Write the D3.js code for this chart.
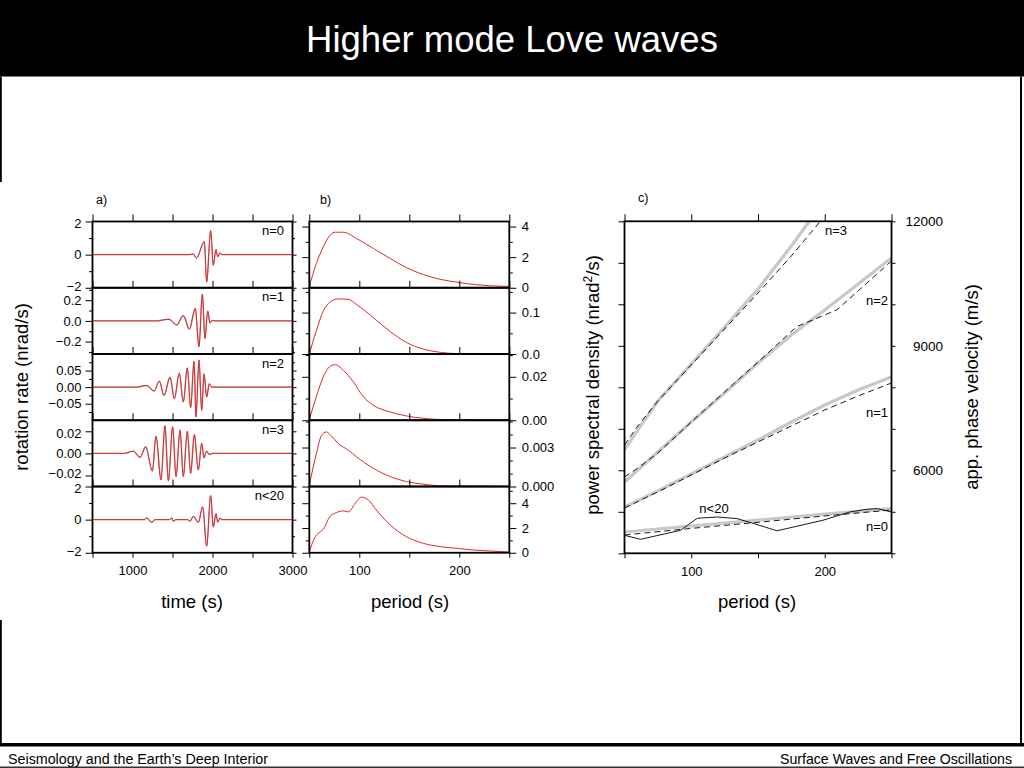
<!DOCTYPE html>
<html><head><meta charset="utf-8">
<script src="https://cdn.jsdelivr.net/npm/d3@7"></script>
<style>
html,body{margin:0;padding:0;background:#fff;overflow:hidden;}
svg{display:block;font-family:"Liberation Sans",Arial,Helvetica,sans-serif;}
</style></head><body>
<svg id="c" width="1024" height="768"></svg>
<script>
// ---------------- DATA ----------------
const title = "Higher mode Love waves";
const footerLeft = "Seismology and the Earth\u2019s Deep Interior";
const footerRight = "Surface Waves and Free Oscillations";

// panel a) rotation-rate traces  [time (s), rate (nrad/s)]
const modeLabels = ["n=0", "n=1", "n=2", "n=3", "n<20"];
const traceN0 = [[500,0],[1700,0],[1760,0.03],[1800,-0.2],[1898,0.78],[1927,-1.66],[1977,1.45],[2010,-0.64],[2044,0.32],[2065,-0.13],[2094,0.1],[2120,0],[3000,0]];
const traceN1 = [[500,0],[1300,0],[1456,0.016],[1552,-0.04],[1635,0.05],[1710,-0.08],[1785,0.12],[1831,-0.25],[1873,0.26],[1906,-0.17],[1940,0.095],[1969,-0.02],[1995,0.005],[2030,0],[3000,0]];
const traceN2 = [[500,0],[1050,0],[1177,0.005],[1269,-0.012],[1335,0.018],[1394,-0.025],[1469,0.03],[1523,-0.035],[1585,0.042],[1635,-0.045],[1685,0.058],[1727,-0.062],[1769,0.078],[1794,-0.09],[1831,0.082],[1865,-0.07],[1894,0.04],[1927,-0.03],[1960,0.01],[1990,0],[3000,0]];
const traceN3 = [[500,0],[900,0],[1010,0.002],[1094,-0.0036],[1165,0.006],[1248,-0.016],[1294,0.0155],[1356,-0.024],[1406,0.025],[1448,-0.025],[1502,0.024],[1544,-0.021],[1594,0.021],[1635,-0.021],[1685,0.02],[1727,-0.018],[1773,0.017],[1823,-0.015],[1865,0.009],[1894,-0.004],[1925,0.002],[1960,-0.001],[2000,0],[3000,0]];
const traceAll = [[500,0],[1150,0],[1177,0.1],[1240,-0.16],[1280,0],[1460,0],[1490,0.1],[1510,-0.1],[1540,0],[1690,0],[1719,-0.1],[1760,0.2],[1823,-0.16],[1877,0.77],[1927,-1.6],[1977,1.45],[2010,-0.45],[2044,0.36],[2065,-0.15],[2094,0.08],[2120,0],[3000,0]];
const traces = [traceN0, traceN1, traceN2, traceN3, traceAll];
const timeDomain = [500, 3000];
const timeMajor = [1000, 2000, 3000];
const timeMinor = [500, 1500, 2500];
const rateDomains = [[-2,2],[-0.32,0.32],[-0.1,0.1],[-0.03,0.03],[-2,2]];
const rateMajor = [[-2,0,2],[-0.2,0,0.2],[-0.05,0,0.05],[-0.02,0,0.02],[-2,0,2]];
const rateMinor = [[-1,1],[-0.3,-0.1,0.1,0.3],[-0.075,-0.025,0.025,0.075],[-0.01,0.01],[-1,1]];
const rateFormat = [".0f",".1f",".2f",".2f",".0f"];

// panel b) spectra  [period (s), amplitude]
const specN0 = [[50,0.09],[57,1.58],[64,2.68],[71,3.45],[76,3.63],[84,3.63],[97,3.23],[114,2.57],[131,1.91],[147,1.32],[164,0.86],[181,0.55],[197,0.37],[214,0.22],[231,0.13],[250,0.09]];
const specN1 = [[50,0],[57,0.056],[64,0.104],[71,0.126],[79,0.133],[89,0.132],[97,0.12],[114,0.088],[131,0.054],[147,0.028],[164,0.012],[181,0.004],[197,0.001],[250,0]];
const specN2 = [[50,0.0003],[57,0.0108],[64,0.02],[70,0.0245],[76,0.0256],[84,0.023],[94,0.0177],[104,0.0108],[114,0.0069],[131,0.0038],[147,0.002],[164,0.0009],[181,0.0003],[250,0]];
const specN3 = [[50,0.0001],[57,0.0025],[62,0.0039],[67,0.0042],[72,0.0039],[79,0.0033],[89,0.0028],[97,0.0023],[114,0.0014],[131,0.00076],[147,0.00038],[164,0.00018],[181,0.00005],[250,0]];
const specAll = [[50,0.08],[56,1.3],[61,1.7],[64,1.9],[71,2.98],[77,3.24],[84,3.38],[89,3.3],[96,4.0],[102,4.49],[109,4.27],[117,3.46],[131,2.24],[147,1.3],[164,0.76],[181,0.49],[197,0.36],[214,0.22],[231,0.14],[250,0.06]];
const spectra = [specN0, specN1, specN2, specN3, specAll];
const periodDomain = [50, 250];
const periodMajor = [100, 200];
const periodMinor = [50, 150, 250];
const specDomains = [[0,4.33],[0,0.16],[0,0.0305],[0,0.0051],[0,5.35]];
const specMajor = [[0,2,4],[0,0.1],[0,0.02],[0,0.003],[0,2,4]];
const specMinor = [[1,3],[0.05,0.15],[0.01,0.03],[0.001,0.002,0.004,0.005],[1,3,5]];
const specFormat = [".0f",".1f",".2f",".3f",".0f"];

// panel c) apparent phase velocity  [period (s), velocity (m/s)]
const theoN3 = [[50,6490],[60,6972],[75,7670],[100,8562],[125,9454],[150,10369],[175,11406],[200,12514]];
const obsN3  = [[50,6610],[60,7068],[75,7670],[100,8538],[125,9406],[150,10273],[175,11165],[200,12129]];
const theoN2 = [[50,5718],[60,6007],[75,6441],[100,7164],[125,7863],[150,8586],[175,9261],[200,9864],[225,10490],[250,11117]];
const obsN2  = [[50,5838],[60,6055],[75,6417],[100,7164],[125,7887],[150,8610],[179,9461],[209,9864],[225,10324],[250,11044]];
const theoN1 = [[50,5116],[75,5505],[100,5911],[125,6321],[150,6731],[175,7164],[200,7574],[225,7935],[250,8249]];
const obsN1  = [[50,5092],[75,5481],[100,5887],[125,6297],[150,6682],[175,7068],[200,7454],[225,7791],[250,8104]];
const theoN0 = [[50,4513],[100,4658],[150,4800],[200,4945],[250,5077]];
const obsN0  = [[50,4441],[100,4600],[150,4747],[200,4900],[250,5044]];
const obsAll = [[50,4434],[62,4337],[92,4554],[104.5,4844],[119.4,4875],[134.3,4836],[146.3,4723],[164.2,4542],[198.5,4795],[218.7,4995],[231.3,5060],[239.6,5077],[250,4995]];
const velDomain = [4000, 12000];
const velTicks = [4000,5000,6000,7000,8000,9000,10000,11000,12000];
const velLabels = [6000, 9000, 12000];

// ---------------- DRAWING ----------------
const FONT = '"Liberation Sans", Arial, Helvetica, sans-serif';
const RED = "#e3262c";
const svg = d3.select("#c");

// slide frame
svg.append("rect").attr("x",0).attr("y",0).attr("width",1024).attr("height",76.5).attr("fill","#000");
svg.append("text").attr("x",512).attr("y",52).attr("text-anchor","middle").attr("fill","#fff")
  .attr("font-size",36.5).attr("font-family",FONT).text(title);
svg.append("rect").attr("x",0).attr("y",76.5).attr("width",1.8).attr("height",105.5).attr("fill","#000");
svg.append("rect").attr("x",0).attr("y",620).attr("width",1.8).attr("height",124).attr("fill","#000");
svg.append("rect").attr("x",1020).attr("y",76.5).attr("width",2).attr("height",668).attr("fill","#000");
svg.append("rect").attr("x",0).attr("y",743).attr("width",1024).attr("height",3.5).attr("fill","#000");
svg.append("rect").attr("x",0).attr("y",766.5).attr("width",1024).attr("height",1.5).attr("fill","#333");
svg.append("text").attr("x",8).attr("y",764).attr("font-size",14).attr("font-family",FONT)
  .attr("textLength",260).attr("lengthAdjust","spacingAndGlyphs")
  .attr("fill","#000").text(footerLeft);
svg.append("text").attr("x",780).attr("y",764).attr("font-size",14).attr("font-family",FONT)
  .attr("textLength",232).attr("lengthAdjust","spacingAndGlyphs")
  .attr("fill","#000").text(footerRight);

function styleAxis(g, fs) {
  g.select(".domain").remove();
  g.attr("font-family", FONT).attr("font-size", fs || 13);
  g.selectAll("line").attr("stroke","#000").attr("stroke-width",1);
  g.selectAll("text").attr("fill","#000");
}
function ticks(parent, gen, scale, vals, size, fmt, pad, tx, ty) {
  const a = gen(scale).tickValues(vals).tickSize(size).tickPadding(pad == null ? 4 : pad)
    .tickFormat(fmt ? d3.format(fmt) : () => "");
  const g = parent.append("g").attr("transform", `translate(${tx},${ty})`).call(a);
  styleAxis(g);
  if (!fmt) g.selectAll("text").remove();
  return g;
}
// nudge labels that sit close to a frame edge slightly inward, away from the neighbouring row
function nudgeEdgeLabels(g, scale) {
  const r = scale.range(); // [bottom, top]
  g.selectAll(".tick").each(function(d) {
    const t = d3.select(this).select("text");
    if (t.empty()) return;
    const p = scale(d);
    if (r[0] - p < 12) t.attr("y", -1.8);
    if (p - r[1] < 12) t.attr("y", 2);
  });
}

const rowTop = 221.5, rowH = 66.25;
const ax = d3.scaleLinear().domain(timeDomain).range([92.5, 292.5]);
const bx = d3.scaleLinear().domain(periodDomain).range([309.3, 509.3]);

for (let i = 0; i < 5; i++) {
  const y0 = rowTop + i*rowH, y1 = y0 + rowH;
  // --- panel a row
  const ay = d3.scaleLinear().domain(rateDomains[i]).range([y1, y0]);
  const ga = svg.append("g");
  ga.append("clipPath").attr("id","ca"+i).append("rect")
    .attr("x",ax.range()[0]).attr("y",y0).attr("width",200).attr("height",rowH);
  const la = d3.line().x(d => ax(d[0])).y(d => ay(d[1])).curve(d3.curveMonotoneX);
  ga.append("path").datum(traces[i]).attr("d",la).attr("fill","none").attr("stroke","#000")
    .attr("stroke-width",1.4).attr("stroke-opacity",0.35).attr("clip-path",`url(#ca${i})`);
  ga.append("path").datum(traces[i]).attr("d",la).attr("fill","none").attr("stroke",RED)
    .attr("stroke-width",1).attr("clip-path",`url(#ca${i})`);
  const gl = ticks(ga, d3.axisLeft, ay, rateMajor[i], 7, rateFormat[i], 4, ax.range()[0], 0);
  nudgeEdgeLabels(gl, ay);
  ticks(ga, d3.axisLeft, ay, rateMinor[i], 3.5, null, 4, ax.range()[0], 0);
  ticks(ga, d3.axisRight, ay, rateMajor[i], 4, null, 4, ax.range()[1], 0);
  ticks(ga, d3.axisRight, ay, rateMinor[i], 2.5, null, 4, ax.range()[1], 0);
  ticks(ga, d3.axisTop, ax, timeMajor.concat(timeMinor), 7, null, 4, 0, y0);
  ga.append("rect").attr("x",ax.range()[0]).attr("y",y0).attr("width",200).attr("height",rowH)
    .attr("fill","none").attr("stroke","#000").attr("stroke-width",1.8);
  ga.append("text").attr("x",284).attr("y",y0+13.5).attr("text-anchor","end")
    .attr("font-size",13).attr("font-family",FONT).text(modeLabels[i]);

  // --- panel b row
  const by = d3.scaleLinear().domain(specDomains[i]).range([y1, y0]);
  const gb = svg.append("g");
  const lb = d3.line().x(d => bx(d[0])).y(d => by(d[1])).curve(d3.curveMonotoneX);
  gb.append("path").datum(spectra[i]).attr("d",lb).attr("fill","none").attr("stroke",RED).attr("stroke-width",1);
  ticks(gb, d3.axisRight, by, specMajor[i], 7, specFormat[i], 5.5, bx.range()[1], 0);
  ticks(gb, d3.axisRight, by, specMinor[i], 3.5, null, 4, bx.range()[1], 0);
  ticks(gb, d3.axisLeft, by, specMajor[i], 7, null, 4, bx.range()[0], 0);
  ticks(gb, d3.axisLeft, by, specMinor[i], 3.5, null, 4, bx.range()[0], 0);
  ticks(gb, d3.axisTop, bx, periodMajor.concat(periodMinor), 7, null, 4, 0, y0);
  gb.append("rect").attr("x",bx.range()[0]).attr("y",y0).attr("width",200).attr("height",rowH)
    .attr("fill","none").attr("stroke","#000").attr("stroke-width",1.8);
}
const yBottom = rowTop + 5*rowH;
ticks(svg, d3.axisBottom, ax, timeMajor, 5, "d", 8, 0, yBottom);
ticks(svg, d3.axisBottom, ax, timeMinor, 5, null, 8, 0, yBottom);
ticks(svg, d3.axisBottom, bx, periodMajor, 5, "d", 8, 0, yBottom);
ticks(svg, d3.axisBottom, bx, periodMinor, 5, null, 8, 0, yBottom);

// labels
function label(x, y, txt, fs, rot, anchor) {
  const t = svg.append("text").attr("font-family",FONT).attr("font-size",fs).attr("fill","#000")
    .attr("text-anchor", anchor || "middle");
  if (rot) t.attr("transform",`translate(${x},${y}) rotate(-90)`); else t.attr("x",x).attr("y",y);
  t.text(txt);
  return t;
}
label(96, 204, "a)", 12.5, false, "start");
label(320, 204, "b)", 12.5, false, "start");
label(638, 202, "c)", 12.5, false, "start");
label(28, 387, "rotation rate (nrad/s)", 18.5, true);
label(192, 608, "time (s)", 18.5);
label(410, 608, "period (s)", 18.5);
label(757, 608, "period (s)", 18.5);
label(978, 387, "app. phase velocity (m/s)", 18.5, true);
{
  const t = svg.append("text").attr("font-family",FONT).attr("font-size",18.5).attr("fill","#000")
    .attr("text-anchor","middle").attr("transform","translate(599,385) rotate(-90)");
  t.append("tspan").text("power spectral density (nrad");
  t.append("tspan").attr("font-size",12).attr("dy",-7).text("2");
  t.append("tspan").attr("dy",7).text("/s)");
}

// --- panel c
const cx = d3.scaleLinear().domain(periodDomain).range([624.5, 891.5]);
const cy = d3.scaleLinear().domain(velDomain).range([553.3, 221.3]);
const gc = svg.append("g");
gc.append("clipPath").attr("id","cc").append("rect").attr("x",624.5).attr("y",221.3).attr("width",267).attr("height",332);
const lc = d3.line().x(d => cx(d[0])).y(d => cy(d[1]));
const theo = [theoN3, theoN2, theoN1, theoN0];
const obs = [obsN3, obsN2, obsN1, obsN0];
theo.forEach(s => gc.append("path").datum(s).attr("d",lc).attr("fill","none").attr("stroke","#c8c8c8")
  .attr("stroke-width",3.2).attr("clip-path","url(#cc)"));
obs.forEach(s => gc.append("path").datum(s).attr("d",lc).attr("fill","none").attr("stroke","#000")
  .attr("stroke-width",0.9).attr("stroke-dasharray","6,4").attr("clip-path","url(#cc)"));
gc.append("path").datum(obsAll).attr("d",lc).attr("fill","none").attr("stroke","#000")
  .attr("stroke-width",0.9).attr("clip-path","url(#cc)");
ticks(gc, d3.axisTop, cx, periodMajor.concat(periodMinor), 7, null, 4, 0, 221.3);
ticks(gc, d3.axisBottom, cx, periodMajor, 5, "d", 8, 0, 553.3);
ticks(gc, d3.axisBottom, cx, periodMinor, 5, null, 8, 0, 553.3);
ticks(gc, d3.axisLeft, cy, velTicks, 6, null, 4, 624.5, 0);
ticks(gc, d3.axisRight, cy, velTicks, 4, null, 4, 891.5, 0);
gc.selectAll(null).data(velLabels).enter().append("text")
  .attr("x",943).attr("y",d => cy(d)).attr("dy","0.35em").attr("text-anchor","end")
  .attr("font-family",FONT).attr("font-size",13.5).text(d => d3.format("d")(d));
gc.append("rect").attr("x",624.5).attr("y",221.3).attr("width",267).attr("height",332)
  .attr("fill","none").attr("stroke","#000").attr("stroke-width",1.8);
const cl = [["n=3",825,235,"start"],["n=2",888,305,"end"],["n=1",888,417,"end"],["n=0",888,531,"end"],["n<20",714,513,"middle"]];
cl.forEach(c => gc.append("text").attr("x",c[1]).attr("y",c[2]).attr("text-anchor",c[3])
  .attr("font-family",FONT).attr("font-size",13).text(c[0]));
</script>
</body></html>
